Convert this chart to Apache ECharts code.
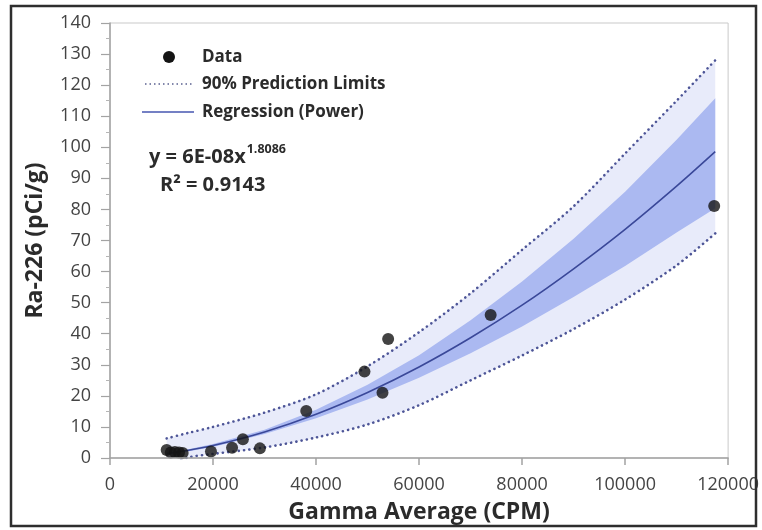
<!DOCTYPE html>
<html>
<head>
<meta charset="utf-8">
<script src="https://cdn.jsdelivr.net/npm/echarts@6/dist/echarts.min.js"></script>
<style>
  html, body { margin: 0; padding: 0; background: #fff; }
  #chart { width: 762px; height: 530px; }
</style>
</head>
<body>
<div id="chart"></div>
<script>
// Measured samples: gamma count rate (CPM) vs Ra-226 activity (pCi/g)
const sampleCPM = [11000, 11800, 12600, 13400, 14100, 19600, 23700, 25800, 29100, 38100, 49400, 52900, 54000, 73900, 117300];
const sampleRa  = [2.6, 1.8, 1.9, 1.8, 1.6, 2.1, 3.3, 6.0, 3.1, 15.1, 27.8, 21.0, 38.3, 46.0, 81.1];

// Power regression curve and its bands, sampled along the CPM axis
const curveCPM  = [11000, 15000, 20000, 30000, 40000, 50000, 60000, 70000, 80000, 90000, 100000, 110000, 117500];
const fitRa     = [1.4, 2.4, 4.0, 8.4, 14.1, 21.1, 29.3, 38.7, 49.2, 60.9, 73.6, 87.5, 98.6];
const confUpper = [1.7, 2.75, 4.5, 9.1, 15.5, 23.6, 33.1, 44.3, 56.8, 70.6, 85.7, 102.4, 115.8];
const confLower = [1.15, 2.1, 3.55, 7.7, 12.8, 18.8, 25.8, 33.7, 42.3, 51.8, 61.8, 72.6, 80.4];
const predUpper = [6.3, 8.0, 10.0, 14.6, 20.5, 29.5, 40.5, 53.0, 67.0, 81.0, 98.0, 115.0, 128.0];
const predLower = [-2.6, 0.1, 1.3, 3.4, 6.6, 10.8, 17.0, 25.0, 33.0, 41.5, 51.0, 62.0, 72.3];

// Axis ticks
const xTicks = { min: 0, max: 120000, step: 20000 };
const yTicks = { min: 0, max: 140, step: 10 };

const pairs = (xs, ys) => xs.map((x, i) => [x, ys[i]]);

// Filled band between two curves, projected through the grid's scales
function bandSeries(upper, lower, color, z) {
  return {
    type: 'custom',
    z: z,
    silent: true,
    data: [0],
    renderItem: function (params, api) {
      const pts = [];
      for (let i = 0; i < curveCPM.length; i++) {
        pts.push(api.coord([curveCPM[i], Math.max(yTicks.min, upper[i])]));
      }
      for (let i = curveCPM.length - 1; i >= 0; i--) {
        pts.push(api.coord([curveCPM[i], Math.max(yTicks.min, lower[i])]));
      }
      return { type: 'polygon', shape: { points: pts }, style: { fill: color } };
    }
  };
}

const FONT = '"Open Sans", "DejaVu Sans", sans-serif';
const INK = '#2b2b2b';
const limitStyle = { color: '#4d5597', width: 2.6, type: [0.1, 5.2], cap: 'round' };
const legendText = (t) => ({ text: t, fontFamily: FONT, fontWeight: 'bold', fontSize: 17, fill: INK, verticalAlign: 'middle' });

const chart = echarts.init(document.getElementById('chart'), null, { renderer: 'canvas' });

chart.setOption({
  backgroundColor: '#ffffff',
  animation: false,
  grid: {
    left: 110, right: 20, top: 23, bottom: 72,
    show: true, borderColor: '#c9c9c9', borderWidth: 1, backgroundColor: '#ffffff'
  },
  xAxis: {
    type: 'value',
    min: xTicks.min, max: xTicks.max, interval: xTicks.step,
    z: 10,
    name: 'Gamma Average (CPM)',
    nameLocation: 'middle',
    nameGap: 43,
    nameTextStyle: { fontFamily: FONT, fontWeight: 'bold', fontSize: 23, color: INK },
    axisLine: { show: true, lineStyle: { color: '#a3a3a3', width: 1.5 } },
    axisTick: { show: true, length: 7, lineStyle: { color: '#a3a3a3', width: 1.5 } },
    axisLabel: { fontFamily: FONT, fontSize: 18, color: '#444', margin: 18, formatter: (v) => String(v) },
    splitLine: { show: false }
  },
  yAxis: {
    type: 'value',
    min: yTicks.min, max: yTicks.max, interval: yTicks.step,
    z: 10,
    name: 'Ra-226 (pCi/g)',
    nameLocation: 'middle',
    nameGap: 63,
    nameTextStyle: { fontFamily: FONT, fontWeight: 'bold', fontSize: 23, color: INK },
    axisLine: { show: true, lineStyle: { color: '#a3a3a3', width: 1.5 } },
    axisTick: { show: true, length: 9, lineStyle: { color: '#a3a3a3', width: 1.2 } },
    minorTick: { show: true, splitNumber: 2, length: 4, lineStyle: { color: '#b5b5b5', width: 1 } },
    axisLabel: { fontFamily: FONT, fontSize: 18, color: '#444', margin: 19 },
    splitLine: { show: false }
  },
  series: [
    bandSeries(predUpper, predLower, '#e8ebfa', 1),
    bandSeries(confUpper, confLower, '#abb9f1', 2),
    {
      name: 'Upper 90% Prediction Limit',
      type: 'line', z: 3, silent: true, showSymbol: false, clip: true,
      data: pairs(curveCPM, predUpper),
      smooth: 0.3,
      lineStyle: limitStyle
    },
    {
      name: 'Lower 90% Prediction Limit',
      type: 'line', z: 3, silent: true, showSymbol: false, clip: true,
      data: pairs(curveCPM, predLower),
      smooth: 0.3,
      lineStyle: limitStyle
    },
    {
      name: 'Regression (Power)',
      type: 'line', z: 4, silent: true, showSymbol: false,
      data: pairs(curveCPM, fitRa),
      smooth: 0.3,
      lineStyle: { color: '#3a4899', width: 1.6 }
    },
    {
      name: 'Data',
      type: 'scatter', z: 5, silent: true,
      symbol: 'circle', symbolSize: 12,
      itemStyle: { color: '#141414' },
      data: pairs(sampleCPM, sampleRa)
    }
  ],
  graphic: [
    // outer frame
    { type: 'rect', z: 100, silent: true,
      shape: { x: 11, y: 6, width: 745, height: 520 },
      style: { fill: null, stroke: '#2e2e2e', lineWidth: 2.5 } },
    // legend
    { type: 'circle', z: 100, shape: { cx: 169, cy: 57, r: 6 }, style: { fill: '#141414' } },
    { type: 'text', z: 100, x: 202, y: 57, style: legendText('Data') },
    { type: 'line', z: 100, shape: { x1: 145, y1: 84, x2: 194, y2: 84 },
      style: { stroke: '#5a6090', lineWidth: 1.6, lineDash: [1.5, 3] } },
    { type: 'text', z: 100, x: 202, y: 84, style: legendText('90% Prediction Limits') },
    { type: 'line', z: 100, shape: { x1: 142, y1: 112, x2: 194, y2: 112 },
      style: { stroke: '#4656b0', lineWidth: 1.6 } },
    { type: 'text', z: 100, x: 202, y: 112, style: legendText('Regression (Power)') },
    // fitted equation and goodness of fit
    { type: 'text', z: 100, x: 149, y: 143,
      style: {
        text: '{m|y = 6E-08x}{s|1.8086}',
        fontFamily: FONT, fontWeight: 'bold', fill: INK,
        rich: {
          m: { fontFamily: FONT, fontWeight: 'bold', fontSize: 20, lineHeight: 24, fill: INK, verticalAlign: 'bottom' },
          s: { fontFamily: FONT, fontWeight: 'bold', fontSize: 12.5, lineHeight: 24, fill: INK, verticalAlign: 'top', padding: [0, 0, 0, 1] }
        }
      } },
    { type: 'text', z: 100, x: 160, y: 185,
      style: { text: 'R² = 0.9143', fontFamily: FONT, fontWeight: 'bold', fontSize: 20, fill: INK, verticalAlign: 'middle' } }
  ]
});
</script>
</body>
</html>
